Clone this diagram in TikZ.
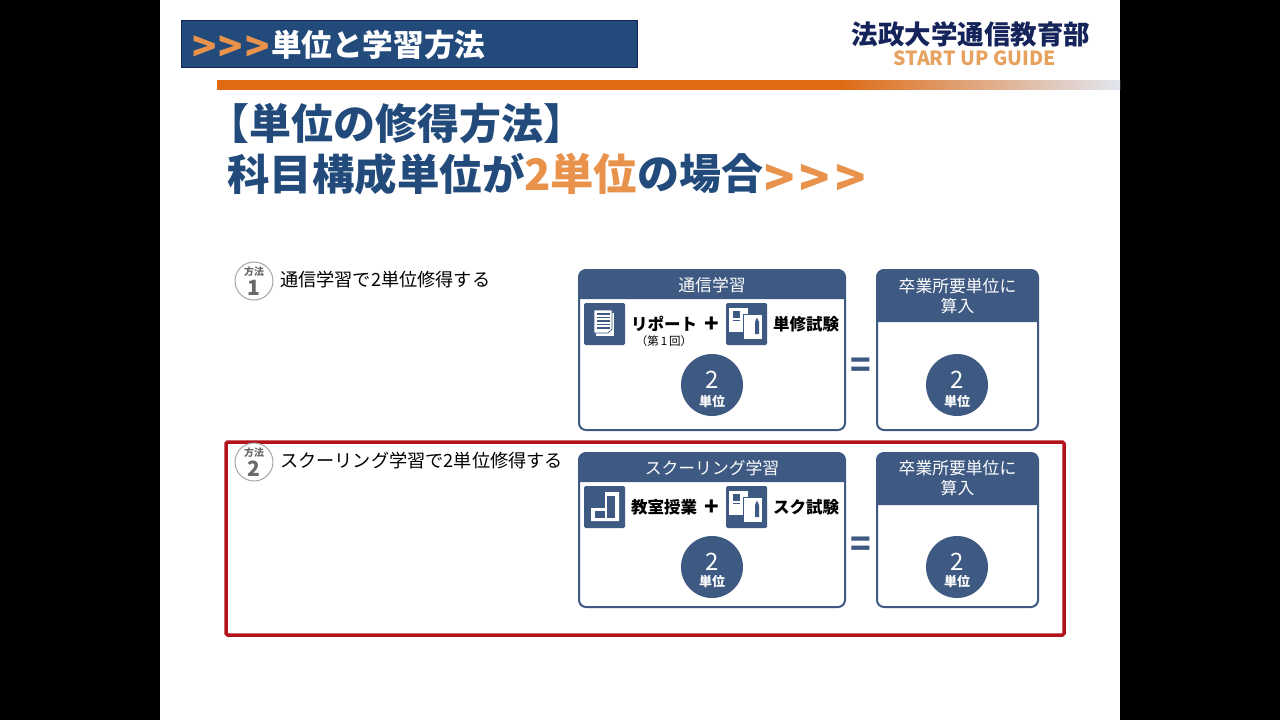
\documentclass[tikz,border=0pt]{standalone}
\usepackage{fontspec}
\setmainfont{Noto Sans CJK JP}
\usepackage{tikz}
\usetikzlibrary{positioning,calc}
\definecolor{themenavy}{RGB}{34,75,124}
\definecolor{logonavy}{RGB}{20,35,90}
\definecolor{cardblue}{RGB}{62,89,130}
\definecolor{accentorange}{RGB}{232,146,76}
\definecolor{barorange}{RGB}{222,107,20}
\definecolor{barpale}{RGB}{226,230,240}
\definecolor{logoorange}{RGB}{232,162,96}
\definecolor{framered}{RGB}{178,18,28}
\definecolor{markgray}{RGB}{105,105,105}
\newcommand{\fsz}[1]{\fontsize{#1}{#1}\selectfont}
% card header: corner node, bottom edge of the band
\newcommand{\cardhead}[2]{\fill[cardblue] ($(#1.north west)+(0,#2)$) [rounded corners=7pt] -- (#1.north west) -- (#1.north east) [sharp corners] -- ($(#1.north east)+(0,#2)$) -- cycle;}
\tikzset{
  docicon/.pic={
    \fill[cardblue,rounded corners=1.5pt] (0,0) rectangle (41,42);
    \fill[white] (12,10) rectangle (30,33);
    \fill[white,draw=cardblue,line width=.7pt] (10,7) -- (28,7) -- (28,26) -- (24,30) -- (10,30) -- cycle;
    \foreach \ly in {11,14.5,18,21.5,25}{\draw[cardblue,line width=1.4pt] (13,\ly)--(26,\ly);}
  },
  examicon/.pic={
    \fill[cardblue,rounded corners=1.5pt] (0,0) rectangle (41,42);
    \fill[white] (3,5) rectangle (22,29);
    \fill[cardblue] (7,8) rectangle (14,15);
    \draw[cardblue,line width=.8pt] (7,17.5)--(14,17.5);
    \fill[white,draw=cardblue,line width=1pt] (17,11) rectangle (36,36);
    \fill[cardblue] (29,19)--(31,14.5)--(33,19)--(33,31)--(29,31)--cycle;
  },
  roomicon/.pic={
    \fill[cardblue,rounded corners=1.5pt] (0,0) rectangle (41,42);
    \fill[white] (7,22)--(21,22)--(21,6)--(35,6)--(35,35)--(7,35)--cycle;
    \fill[cardblue] (11,25) rectangle (21,32);
    \fill[cardblue] (23,10) rectangle (31,32);
  }
}
\begin{document}
\begin{tikzpicture}[x=1pt,y=-1pt,every node/.style={inner sep=0pt,outer sep=0pt},
  card/.style={draw=cardblue,line width=2pt,fill=white,rounded corners=7pt,anchor=north west},
  badge/.style={circle,fill=cardblue,minimum size=62pt},
  lbl/.style={anchor=west,font=\bfseries\fsz{16.5}},
  ring/.style={circle,draw=black!35,fill=white,line width=1pt,minimum size=38pt},
  head/.style={white,align=center,font=\fontsize{16.8}{20}\selectfont},
  plain/.style={anchor=west,font=\fsz{18.2}}]
  \useasboundingbox (0,0) rectangle (1280,720);
  \fill[black] (0,0) rectangle (1280,720);
  \fill[white] (160,0) rectangle (1120,720);
  % top band
  \node[draw=logonavy,fill=themenavy,line width=1pt,anchor=north west,minimum width=456pt,minimum height=47pt] (band) at (181,20) {};
  \node[anchor=west,accentorange,font=\bfseries\fsz{40}] (chev) at (192,49) {>\kern2.5pt>\kern2.5pt>};
  \node[anchor=west,white,font=\bfseries\fsz{30.6}] (bandtxt) at (271,45) {単位と学習方法};
  \node[anchor=center,logonavy,font=\bfseries\fsz{26.5}] (logo) at (971,34) {法政大学通信教育部};
  \node[anchor=center,logoorange,font=\bfseries\fsz{19.5}] (guide) at (974.5,58) {START UP GUIDE};
  \fill[barorange] (217,80) rectangle (840,90);
  \shade[left color=barorange,right color=barpale] (840,80) rectangle (1120,89.4);
  % title
  \node[anchor=west,themenavy,font=\bfseries\fsz{42}] (ttl) at (207,124) {【単位の修得方法】};
  \node[anchor=west,themenavy,font=\bfseries\fsz{42.5}] (sub) at (227,174) {科目構成単位が};
  \node[anchor=west,accentorange,font=\bfseries\fsz{43.4}] (sub2) at (524,174) {2単位};
  \node[anchor=west,themenavy,font=\bfseries\fsz{42}] (sub3) at (637,174) {の場合};
  \node[anchor=west,accentorange,font=\bfseries\fsz{50}] (sub4) at (764,180) {>\kern5.5pt>\kern5.5pt>};
  % method 1
  \node[ring] (m1) at (254,281) {};
  \node[markgray,font=\bfseries\fsz{10}] (m1a) at (254,272) {方法};
  \node[markgray,font=\bfseries\fsz{21}] (m1b) at (254,288) {1};
  \node[plain] (t1) at (280,279.5) {通信学習で2単位修得する};
  \node[card,minimum width=266pt,minimum height=160pt] (c1) at (579,270) {};
  \cardhead{c1}{29}
  \node[head] (h1) at (712,285) {通信学習};
  \path (584,303) pic {docicon};
  \node[lbl] (l1) at (631,324) {リポート};
  \node[font=\fsz{11.5}] (l1b) at (664,341) {（第\,1\,回）};
  \node[font=\bfseries\fsz{24}] (p1) at (712,325) {+};
  \path (726,303) pic {examicon};
  \node[lbl] (r1) at (773,324) {単修試験};
  \node[badge] (b1) at (712,385) {};
  \node[white,font=\fsz{24}] (b1a) at (712,380) {2};
  \node[white,font=\bfseries\fsz{13}] (b1b) at (712,402) {単位};
  \node[cardblue,font=\bfseries\fsz{34}] (e1) at (861,368) {=};
  \node[card,minimum width=161pt,minimum height=160pt] (d1) at (877,270) {};
  \cardhead{d1}{52}
  \node[head] (g1) at (957.5,296) {卒業所要単位に\\算入};
  \node[badge] (f1) at (957,385) {};
  \node[white,font=\fsz{24}] (f1a) at (957,380) {2};
  \node[white,font=\bfseries\fsz{13}] (f1b) at (957,402) {単位};
  % method 2
  \draw[framered,line width=3.5pt,rounded corners=1.5pt] (226,442) rectangle (1064,635);
  \node[ring] (m2) at (254,462) {};
  \node[markgray,font=\bfseries\fsz{10}] (m2a) at (254,453) {方法};
  \node[markgray,font=\bfseries\fsz{21}] (m2b) at (254,469) {2};
  \node[plain] (t2) at (280,460.5) {スクーリング学習で2単位修得する};
  \node[card,minimum width=266pt,minimum height=154pt] (c2) at (579,453) {};
  \cardhead{c2}{29}
  \node[head] (h2) at (712,468) {スクーリング学習};
  \path (584,486) pic {roomicon};
  \node[lbl] (l2) at (631,507) {教室授業};
  \node[font=\bfseries\fsz{24}] (p2) at (712,508) {+};
  \path (726,486) pic {examicon};
  \node[lbl] (r2) at (773,507) {スク試験};
  \node[badge] (b2) at (712,567) {};
  \node[white,font=\fsz{24}] (b2a) at (712,562) {2};
  \node[white,font=\bfseries\fsz{13}] (b2b) at (712,582) {単位};
  \node[cardblue,font=\bfseries\fsz{34}] (e2) at (861,547) {=};
  \node[card,minimum width=161pt,minimum height=154pt] (d2) at (877,453) {};
  \cardhead{d2}{52}
  \node[head] (g2) at (957.5,478) {卒業所要単位に\\算入};
  \node[badge] (f2) at (957,567) {};
  \node[white,font=\fsz{24}] (f2a) at (957,562) {2};
  \node[white,font=\bfseries\fsz{13}] (f2b) at (957,582) {単位};
\end{tikzpicture}
\end{document}
